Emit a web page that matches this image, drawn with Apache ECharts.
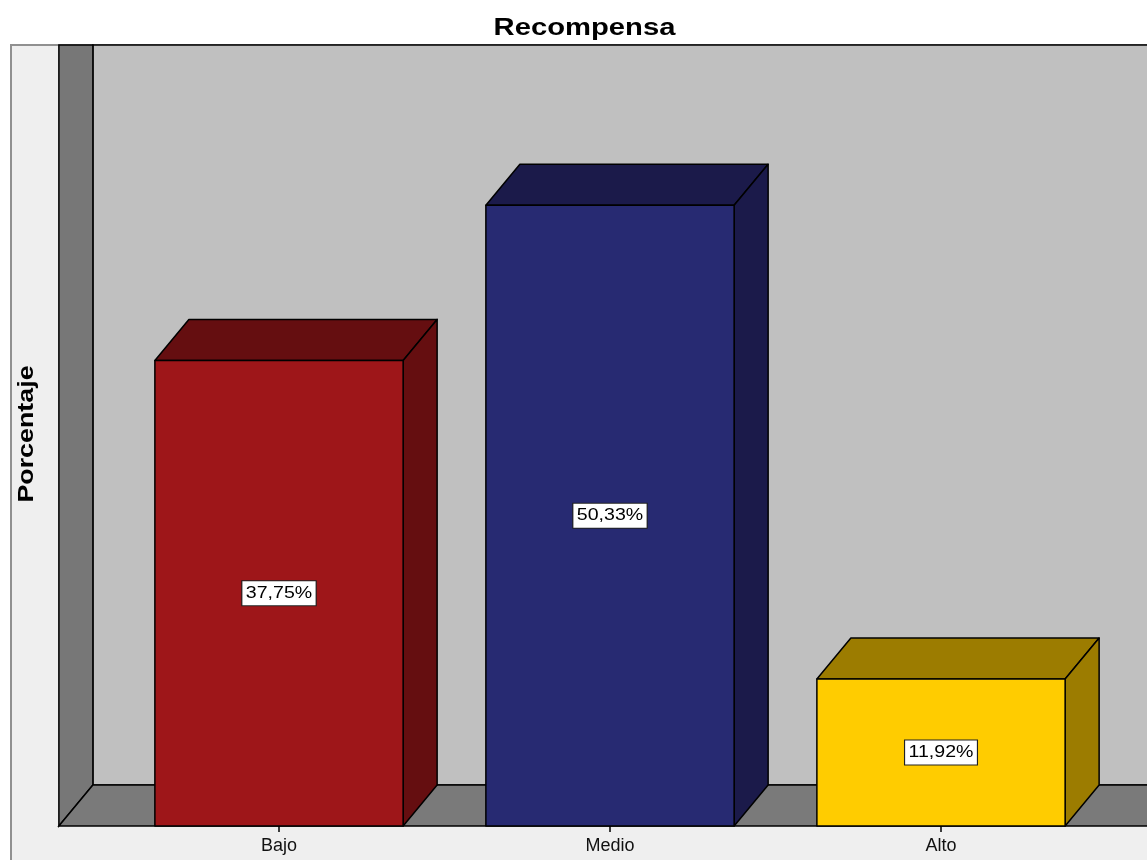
<!DOCTYPE html>
<html><head><meta charset="utf-8">
<script src="https://cdn.jsdelivr.net/npm/echarts@6/dist/echarts.min.js"></script>
<style>html,body{margin:0;padding:0;background:#fff}#c{width:1147px;height:860px}</style>
</head><body><div id="c"></div>
<script>
const titleText = 'Recompensa';
const yAxisTitle = 'Porcentaje';
const categories = ['Bajo', 'Medio', 'Alto'];
const percentages = [37.75, 50.33, 11.92];
const valueLabels = ['37,75%', '50,33%', '11,92%'];
const yMin = 0;
const yMax = 60;
const frontColors = ['#9e1619', '#272a72', '#ffcc00'];
const shadeColors = ['#650e10', '#1b1a4a', '#9c7c00'];

const DX = 34, DY = 41;
const FONT = '"Liberation Sans", Arial, sans-serif';

const chart = echarts.init(document.getElementById('c'), null, {renderer: 'canvas'});

function renderWalls(params, api) {
  const cs = params.coordSys;
  const band = api.size([1, 0])[0];
  const x0 = cs.x - band * 0.165;
  const yt = cs.y, yb = cs.y + cs.height;
  const xr = 1400;
  const st = {stroke: '#000', lineWidth: 1.5};
  return {type: 'group', children: [
    {type: 'rect', shape: {x: x0 + DX, y: yt - DY, width: xr, height: yb - yt}, style: Object.assign({fill: '#c0c0c0'}, st)},
    {type: 'polygon', shape: {points: [[x0, yt - DY], [x0 + DX, yt - DY], [x0 + DX, yb - DY], [x0, yb]]}, style: Object.assign({fill: '#777777'}, st)},
    {type: 'polygon', shape: {points: [[x0, yb], [x0 + DX, yb - DY], [xr, yb - DY], [xr, yb]]}, style: Object.assign({fill: '#7a7a7a'}, st)}
  ]};
}

function renderBar(params, api) {
  const i = params.dataIndex;
  const v = api.value(1);
  const top = api.coord([api.value(0), v]);
  const base = api.coord([api.value(0), 0]);
  const band = api.size([1, 0])[0];
  const w = band * 0.75;
  const xL = top[0] - w / 2, xR = top[0] + w / 2;
  const yT = top[1], yB = base[1];
  const st = {stroke: '#000', lineWidth: 1.5, lineJoin: 'round'};
  return {type: 'group', children: [
    {type: 'polygon', shape: {points: [[xL, yT], [xL + DX, yT - DY], [xR + DX, yT - DY], [xR, yT]]}, style: Object.assign({fill: shadeColors[i]}, st)},
    {type: 'polygon', shape: {points: [[xR, yT], [xR + DX, yT - DY], [xR + DX, yB - DY], [xR, yB]]}, style: Object.assign({fill: shadeColors[i]}, st)},
    {type: 'rect', shape: {x: xL, y: yT, width: w, height: yB - yT}, style: Object.assign({fill: frontColors[i]}, st)},
    {type: 'text', x: top[0], y: (yT + yB) / 2, scaleX: 1.15,
      style: {text: valueLabels[i], fill: '#000', font: '17px ' + FONT, align: 'center', verticalAlign: 'middle',
        backgroundColor: '#fff', borderColor: '#222', borderWidth: 1, padding: [4, 3, 3, 3]}}
  ]};
}

const option = {
  animation: false,
  backgroundColor: '#ffffff',
  grid: {left: 113.5, right: 40.5, top: 86, bottom: 34, containLabel: false},
  graphic: [
    {type: 'rect', z: -10, shape: {x: 11, y: 45, width: 1300, height: 900}, style: {fill: '#efefef', stroke: '#909090', lineWidth: 2}},
    {type: 'text', z: 10, x: 584.5, y: 29, scaleX: 1.27,
      style: {text: titleText, fill: '#000', font: 'bold 23px ' + FONT, align: 'center', verticalAlign: 'middle'}},
    {type: 'text', z: 10, x: 27, y: 434, rotation: Math.PI / 2, scaleX: 1.22,
      style: {text: yAxisTitle, fill: '#000', font: 'bold 22px ' + FONT, align: 'center', verticalAlign: 'middle'}}
  ],
  xAxis: {
    type: 'category', data: categories,
    axisLine: {show: false},
    axisTick: {show: true, alignWithLabel: true, length: 6, lineStyle: {color: '#000', width: 1.5}},
    axisLabel: {color: '#111', fontSize: 18, fontFamily: FONT, margin: 11},
    splitLine: {show: false}
  },
  yAxis: {
    type: 'value', min: yMin, max: yMax,
    axisLine: {show: false}, axisTick: {show: false}, axisLabel: {show: false}, splitLine: {show: false}
  },
  series: [
    {type: 'custom', z: 1, clip: false, silent: true, renderItem: renderWalls, data: [[0, 0]]},
    {type: 'custom', z: 3, clip: false, renderItem: renderBar,
      data: categories.map((c, i) => [i, percentages[i]])}
  ]
};
chart.setOption(option);
</script>
</body></html>
